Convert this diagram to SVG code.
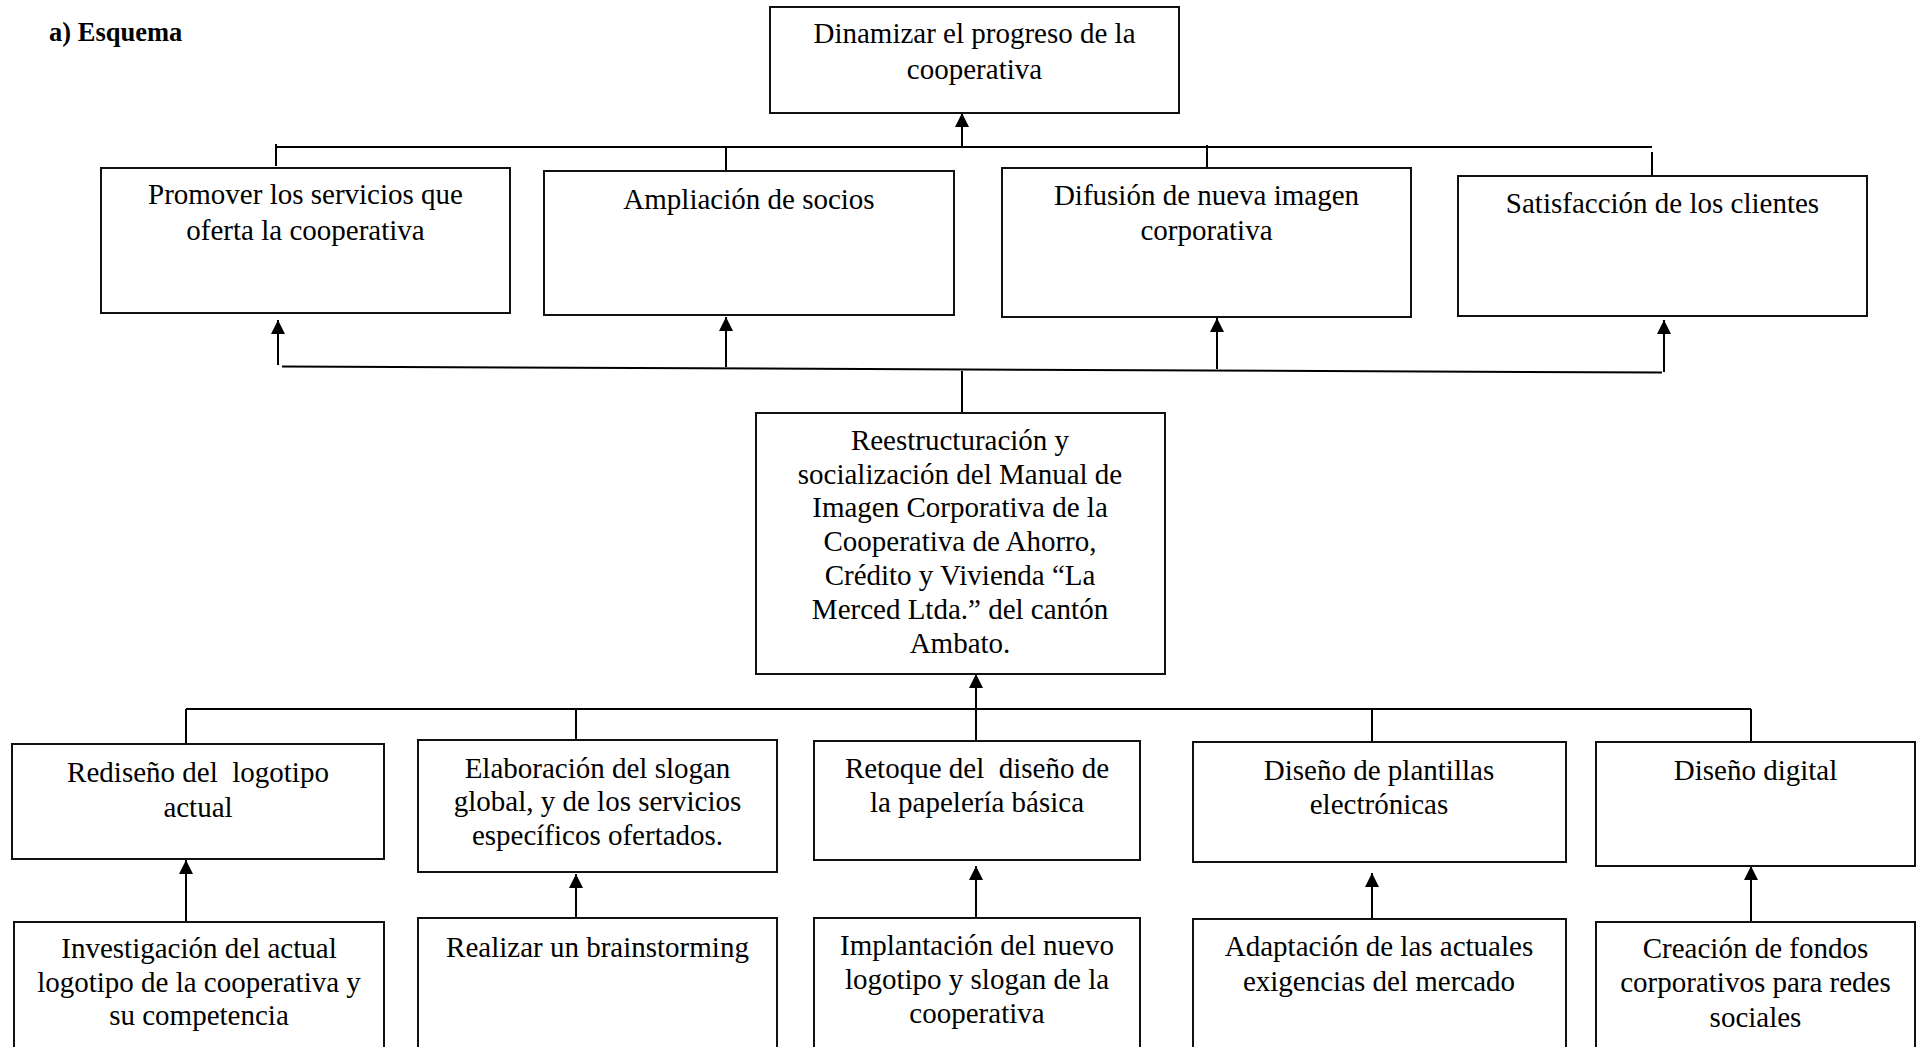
<svg xmlns="http://www.w3.org/2000/svg" width="1917" height="1047" viewBox="0 0 1917 1047">
<style>
.box{fill:#fff;stroke:#111;stroke-width:2}
.t{font-family:"Liberation Serif","Times New Roman",serif;font-size:29px;fill:#000;text-anchor:middle}
.title{font-family:"Liberation Serif","Times New Roman",serif;font-size:26.5px;font-weight:bold;fill:#000}
.c{stroke:#000;stroke-width:2;fill:none}
.a{stroke:#000;stroke-width:2;fill:none;marker-end:url(#ah)}
</style>
<defs>
<marker id="ah" viewBox="0 0 14 14" refX="14" refY="7" markerWidth="14" markerHeight="14" markerUnits="userSpaceOnUse" orient="auto">
<path d="M0,0 L14,7 L0,14 z" fill="#000"/>
</marker>
</defs>
<rect width="1917" height="1047" fill="#fff"/>
<text class="title" x="49" y="41">a) Esquema</text>

<g id="connectors">
<!-- top tier -->
<line class="c" x1="276" y1="147" x2="1652" y2="147"/>
<line class="a" x1="962" y1="147" x2="962" y2="113"/>
<line class="c" x1="276" y1="144" x2="276" y2="166"/>
<line class="c" x1="726" y1="147" x2="726" y2="170"/>
<line class="c" x1="1207" y1="145" x2="1207" y2="167"/>
<line class="c" x1="1652" y1="152" x2="1652" y2="175"/>
<!-- middle tier -->
<line class="c" x1="282" y1="366.5" x2="1662" y2="372.5"/>
<line class="a" x1="278" y1="365" x2="278" y2="320"/>
<line class="a" x1="726" y1="367" x2="726" y2="317"/>
<line class="a" x1="1217" y1="369" x2="1217" y2="318"/>
<line class="a" x1="1664" y1="372" x2="1664" y2="320"/>
<line class="c" x1="962" y1="371" x2="962" y2="413"/>
<!-- lower tier -->
<line class="c" x1="186" y1="709" x2="1751" y2="709"/>
<line class="a" x1="976" y1="741" x2="976" y2="674"/>
<line class="c" x1="186" y1="709" x2="186" y2="744"/>
<line class="c" x1="576" y1="709" x2="576" y2="740"/>
<line class="c" x1="1372" y1="709" x2="1372" y2="742"/>
<line class="c" x1="1751" y1="709" x2="1751" y2="744"/>
<!-- bottom arrows -->
<line class="a" x1="186" y1="921" x2="186" y2="860"/>
<line class="a" x1="576" y1="918" x2="576" y2="874"/>
<line class="a" x1="976" y1="918" x2="976" y2="866"/>
<line class="a" x1="1372" y1="919" x2="1372" y2="873"/>
<line class="a" x1="1751" y1="921" x2="1751" y2="866"/>
</g>

<g id="n-dinamizar">
<rect class="box" x="770" y="7" width="409" height="106"/>
<text class="t" x="974.5" y="43">Dinamizar el progreso de la</text>
<text class="t" x="974.5" y="78.5">cooperativa</text>
</g>
<g id="n-promover">
<rect class="box" x="101" y="168" width="409" height="145"/>
<text class="t" x="305.5" y="204">Promover los servicios que</text>
<text class="t" x="305.5" y="240">oferta la cooperativa</text>
</g>
<g id="n-ampliacion">
<rect class="box" x="544" y="171" width="410" height="144"/>
<text class="t" x="749" y="209">Ampliación de socios</text>
</g>
<g id="n-difusion">
<rect class="box" x="1002" y="168" width="409" height="149"/>
<text class="t" x="1206.5" y="205">Difusión de nueva imagen</text>
<text class="t" x="1206.5" y="240">corporativa</text>
</g>
<g id="n-satisfaccion">
<rect class="box" x="1458" y="176" width="409" height="140"/>
<text class="t" x="1662.5" y="213">Satisfacción de los clientes</text>
</g>
<g id="n-central">
<rect class="box" x="756" y="413" width="409" height="261"/>
<text class="t" x="960" y="450">Reestructuración y</text>
<text class="t" x="960" y="484">socialización del Manual de</text>
<text class="t" x="960" y="517">Imagen Corporativa de la</text>
<text class="t" x="960" y="551">Cooperativa de Ahorro,</text>
<text class="t" x="960" y="585">Crédito y Vivienda “La</text>
<text class="t" x="960" y="619">Merced Ltda.” del cantón</text>
<text class="t" x="960" y="653">Ambato.</text>
</g>
<g id="n-rediseno">
<rect class="box" x="12" y="744" width="372" height="115"/>
<text class="t" x="198" y="782" xml:space="preserve">Rediseño del  logotipo</text>
<text class="t" x="198" y="817">actual</text>
</g>
<g id="n-elaboracion">
<rect class="box" x="418" y="740" width="359" height="132"/>
<text class="t" x="597.5" y="777.5">Elaboración del slogan</text>
<text class="t" x="597.5" y="811">global, y de los servicios</text>
<text class="t" x="597.5" y="844.5">específicos ofertados.</text>
</g>
<g id="n-retoque">
<rect class="box" x="814" y="741" width="326" height="119"/>
<text class="t" x="977" y="777.5" xml:space="preserve">Retoque del  diseño de</text>
<text class="t" x="977" y="811.5">la papelería básica</text>
</g>
<g id="n-plantillas">
<rect class="box" x="1193" y="742" width="373" height="120"/>
<text class="t" x="1379" y="780">Diseño de plantillas</text>
<text class="t" x="1379" y="814">electrónicas</text>
</g>
<g id="n-digital">
<rect class="box" x="1596" y="742" width="319" height="124"/>
<text class="t" x="1755.5" y="780">Diseño digital</text>
</g>
<g id="n-investigacion">
<rect class="box" x="14" y="922" width="370" height="140"/>
<text class="t" x="199" y="958">Investigación del actual</text>
<text class="t" x="199" y="992">logotipo de la cooperativa y</text>
<text class="t" x="199" y="1025">su competencia</text>
</g>
<g id="n-realizar">
<rect class="box" x="418" y="918" width="359" height="140"/>
<text class="t" x="597.5" y="957">Realizar un brainstorming</text>
</g>
<g id="n-implantacion">
<rect class="box" x="814" y="918" width="326" height="140"/>
<text class="t" x="977" y="955">Implantación del nuevo</text>
<text class="t" x="977" y="988.5">logotipo y slogan de la</text>
<text class="t" x="977" y="1023">cooperativa</text>
</g>
<g id="n-adaptacion">
<rect class="box" x="1193" y="919" width="373" height="140"/>
<text class="t" x="1379" y="956">Adaptación de las actuales</text>
<text class="t" x="1379" y="991">exigencias del mercado</text>
</g>
<g id="n-creacion">
<rect class="box" x="1596" y="922" width="319" height="140"/>
<text class="t" x="1755.5" y="958">Creación de fondos</text>
<text class="t" x="1755.5" y="992">corporativos para redes</text>
<text class="t" x="1755.5" y="1026.5">sociales</text>
</g>
</svg>
